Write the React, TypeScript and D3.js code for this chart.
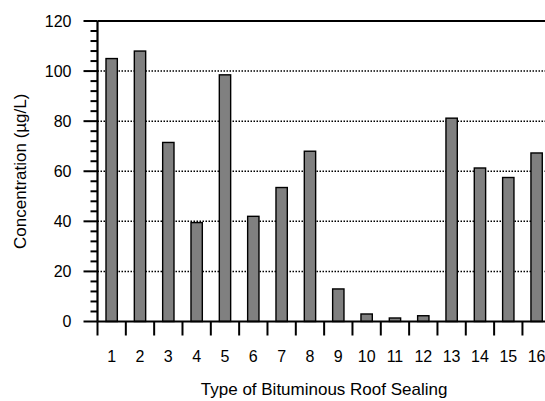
import React from 'react';
import * as d3 from 'd3';

const CATEGORIES = ['1', '2', '3', '4', '5', '6', '7', '8', '9', '10', '11', '12', '13', '14', '15', '16'];
const VALUES = [105, 108, 71.5, 39.5, 98.5, 42, 53.5, 68, 13, 3, 1.4, 2.3, 81.2, 61.3, 57.5, 67.3];
const MAJOR_TICKS = [0, 20, 40, 60, 80, 100, 120];
const MINOR_TICKS = d3.range(0, 121, 4).filter(v => v % 20 !== 0);

const W = 545;
const H = 401;
const FONT = '"Liberation Sans", Arial, Helvetica, sans-serif';

export default function App() {
  const left = 97.5;
  const top = 21;
  const bottom = 321.5;
  const right = left + CATEGORIES.length * 28.33;

  const x = d3.scaleBand<string>().domain(CATEGORIES).range([left, right]).padding(0);
  const y = d3.scaleLinear().domain([0, 120]).range([bottom, top]);
  const barW = x.bandwidth() * 0.4;

  return (
    <svg width={W} height={H} style={{ position: 'absolute', left: 0, top: 0, background: '#fff' }}
      fontFamily={FONT}>
      {/* dotted grid */}
      {MAJOR_TICKS.filter(v => v > 0 && v < 120).map(v => (
        <line key={'g' + v} x1={left} x2={right} y1={y(v)} y2={y(v)}
          stroke="#000" strokeWidth={1.5} strokeDasharray="1.5 1.5" />
      ))}

      {/* bars */}
      {VALUES.map((v, i) => {
        const c = CATEGORIES[i];
        const cx = (x(c) as number) + x.bandwidth() / 2;
        return (
          <rect key={'b' + c} x={cx - barW / 2} y={y(v)} width={barW} height={bottom - y(v)}
            fill="#808080" stroke="#000" strokeWidth={1.4} />
        );
      })}

      {/* frame */}
      <line x1={left} x2={right} y1={top} y2={top} stroke="#000" strokeWidth={2.2} />
      <line x1={left} x2={right} y1={bottom} y2={bottom} stroke="#000" strokeWidth={2} />
      <line x1={left} x2={left} y1={top} y2={bottom} stroke="#000" strokeWidth={2.2} />

      {/* y ticks */}
      {MAJOR_TICKS.map(v => (
        <g key={'y' + v}>
          <line x1={left - 14} x2={left} y1={y(v)} y2={y(v)} stroke="#000" strokeWidth={2} />
          <text x={left - 26} y={y(v)} dy="0.35em" textAnchor="end" fontSize={16}>{v}</text>
        </g>
      ))}
      {MINOR_TICKS.map(v => (
        <line key={'m' + v} x1={left - 7} x2={left} y1={y(v)} y2={y(v)} stroke="#000" strokeWidth={2} />
      ))}

      {/* x ticks */}
      {CATEGORIES.map(c => (
        <g key={'x' + c}>
          <line x1={x(c) as number} x2={x(c) as number} y1={bottom} y2={bottom + 14}
            stroke="#000" strokeWidth={2} />
          <text x={(x(c) as number) + x.bandwidth() / 2} y={362} textAnchor="middle" fontSize={16}>{c}</text>
        </g>
      ))}

      {/* titles */}
      <text x={(left + right) / 2} y={395} textAnchor="middle" fontSize={17}>
        Type of Bituminous Roof Sealing
      </text>
      <text transform={`translate(26,${(top + bottom) / 2}) rotate(-90)`} textAnchor="middle" fontSize={17}>
        Concentration (µg/L)
      </text>
    </svg>
  );
}
